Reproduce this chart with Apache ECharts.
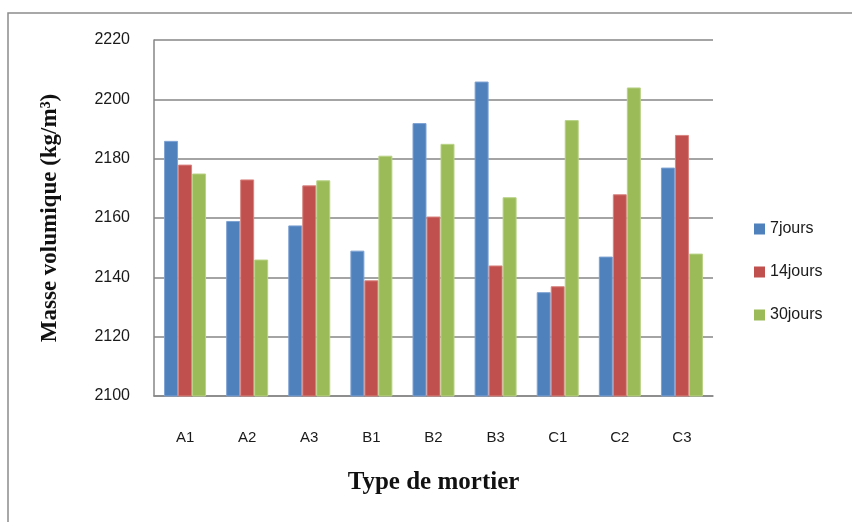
<!DOCTYPE html>
<html>
<head>
<meta charset="utf-8">
<script src="https://cdn.jsdelivr.net/npm/echarts@6/dist/echarts.min.js"></script>
<style>
    html, body { margin: 0; padding: 0; background: #fff; }
    #chart { width: 852px; height: 522px; }
</style>
</head>
<body>
<div id="chart"></div>
<script>
    // categories / series
    var categories = ['A1', 'A2', 'A3', 'B1', 'B2', 'B3', 'C1', 'C2', 'C3'];
    var jours7 = [2186, 2159, 2157.5, 2149, 2192, 2206, 2135, 2147, 2177];
    var jours14 = [2178, 2173, 2171, 2139, 2160.5, 2144, 2137, 2168, 2188];
    var jours30 = [2175, 2146, 2172.7, 2181, 2185, 2167, 2193, 2204, 2148];
    var seriesNames = ['7jours', '14jours', '30jours'];
    var colors = ['#4f81bd', '#c0504d', '#9bbb59'];
    var borders = ['#7ea3d4', '#d98481', '#b8d286'];

    var myChart = echarts.init(document.getElementById('chart'));
    var labelFont = '"Liberation Sans", Arial, sans-serif';
    var titleFont = '"Liberation Serif", "Times New Roman", serif';

    var mk = function (i, data) {
        return {
            name: seriesNames[i],
            type: 'bar',
            barWidth: 14,
            barGap: '0%',
            data: data,
            itemStyle: {
                color: colors[i],
                borderColor: borders[i],
                borderWidth: 1
            }
        };
    };

    myChart.setOption({
        animation: false,
        color: colors,
        graphic: [{
            type: 'rect',
            shape: { x: 8, y: 13, width: 860, height: 530 },
            style: { fill: 'none', stroke: '#8c8c8c', lineWidth: 1.5 },
            silent: true
        }],
        grid: {
            left: 154,
            right: 139,
            top: 40,
            bottom: 126
        },
        legend: {
            orient: 'vertical',
            left: 749,
            top: 216,
            itemWidth: 11,
            itemHeight: 11,
            itemGap: 27,
            icon: 'rect',
            itemStyle: { borderWidth: 0 },
            textStyle: {
                fontFamily: labelFont,
                fontSize: 16,
                color: '#1a1a1a'
            },
            data: seriesNames
        },
        xAxis: {
            type: 'category',
            data: categories,
            name: 'Type de mortier',
            nameLocation: 'middle',
            nameGap: 74,
            nameTextStyle: {
                fontFamily: titleFont,
                fontWeight: 'bold',
                fontSize: 25,
                color: '#111'
            },
            axisLine: { lineStyle: { color: '#868686', width: 1.5 } },
            axisTick: { show: false },
            axisLabel: {
                margin: 34,
                fontFamily: labelFont,
                fontSize: 15,
                color: '#1a1a1a'
            }
        },
        yAxis: {
            type: 'value',
            min: 2100,
            max: 2220,
            interval: 20,
            name: 'Masse volumique (kg/m³)',
            nameLocation: 'middle',
            nameGap: 92,
            nameTextStyle: {
                fontFamily: titleFont,
                fontWeight: 'bold',
                fontSize: 23,
                color: '#111'
            },
            axisLine: { show: true, lineStyle: { color: '#868686', width: 1.5 } },
            axisTick: { show: false },
            splitLine: { lineStyle: { color: '#868686', width: 1.5 } },
            axisLabel: {
                margin: 24,
                fontFamily: labelFont,
                fontSize: 16,
                color: '#1a1a1a',
                formatter: function (v) { return String(v); }
            }
        },
        series: [mk(0, jours7), mk(1, jours14), mk(2, jours30)]
    });
</script>
</body>
</html>
